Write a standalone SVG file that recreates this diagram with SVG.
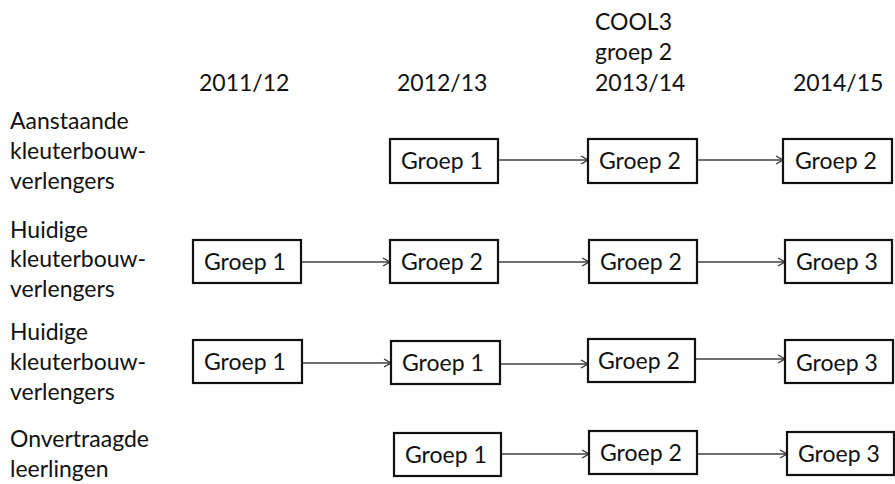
<svg xmlns="http://www.w3.org/2000/svg" width="895" height="484" viewBox="0 0 895 484">
<defs>
<marker id="ah" viewBox="0 0 10 10" refX="9" refY="5" markerWidth="10" markerHeight="10" markerUnits="userSpaceOnUse" orient="auto">
<path d="M2,1 L9,5 L2,9" fill="none" stroke="#333" stroke-width="1.3"/>
</marker>
<style>
text{font-family:Lato,"Open Sans","Liberation Sans",sans-serif;font-size:23px;fill:#111}
.box rect{fill:#fff;stroke:#111;stroke-width:2.2}
#connectors line{stroke:#404040;stroke-width:1.3;marker-end:url(#ah)}
</style>
</defs>
<rect width="895" height="484" fill="#fff"/>
<g id="headers">
<text x="199" y="91">2011/12</text>
<text x="397" y="91">2012/13</text>
<text x="595" y="30">COOL3</text>
<text x="595" y="60">groep 2</text>
<text x="595" y="91">2013/14</text>
<text x="793" y="91">2014/15</text>
</g>
<g id="row-labels">
<text x="10" y="129">Aanstaande</text>
<text x="10" y="159">kleuterbouw-</text>
<text x="10" y="189">verlengers</text>
<text x="10" y="238">Huidige</text>
<text x="10" y="267">kleuterbouw-</text>
<text x="10" y="297">verlengers</text>
<text x="10" y="340">Huidige</text>
<text x="10" y="370">kleuterbouw-</text>
<text x="10" y="400">verlengers</text>
<text x="10" y="447">Onvertraagde</text>
<text x="10" y="477">leerlingen</text>
</g>
<g id="connectors">
<line x1="498" y1="160" x2="588" y2="160"/>
<line x1="697" y1="160" x2="783" y2="160"/>
<line x1="301" y1="262" x2="390" y2="262"/>
<line x1="498" y1="262" x2="589" y2="262"/>
<line x1="697" y1="262" x2="785" y2="262"/>
<line x1="302" y1="363" x2="391" y2="363"/>
<line x1="500" y1="364" x2="588" y2="364"/>
<line x1="695" y1="359" x2="785" y2="359"/>
<line x1="501" y1="454" x2="589" y2="454"/>
<line x1="697" y1="454" x2="787" y2="454"/>
</g>
<g id="r1c2" class="box"><rect x="390" y="139" width="108" height="44"/><text x="401" y="169">Groep 1</text></g>
<g id="r1c3" class="box"><rect x="588" y="139" width="109" height="44"/><text x="599" y="169">Groep 2</text></g>
<g id="r1c4" class="box"><rect x="783" y="139" width="109" height="44"/><text x="795" y="169">Groep 2</text></g>
<g id="r2c1" class="box"><rect x="193" y="240" width="108" height="43"/><text x="204" y="270">Groep 1</text></g>
<g id="r2c2" class="box"><rect x="390" y="240" width="108" height="43"/><text x="401" y="270">Groep 2</text></g>
<g id="r2c3" class="box"><rect x="589" y="240" width="108" height="43"/><text x="600" y="270">Groep 2</text></g>
<g id="r2c4" class="box"><rect x="785" y="240" width="107" height="43"/><text x="796" y="270">Groep 3</text></g>
<g id="r3c1" class="box"><rect x="193" y="340" width="109" height="43"/><text x="204" y="370">Groep 1</text></g>
<g id="r3c2" class="box"><rect x="391" y="341" width="109" height="43"/><text x="402" y="371">Groep 1</text></g>
<g id="r3c3" class="box"><rect x="588" y="339" width="107" height="43"/><text x="598" y="369">Groep 2</text></g>
<g id="r3c4" class="box"><rect x="785" y="340" width="108" height="43"/><text x="796" y="371">Groep 3</text></g>
<g id="r4c2" class="box"><rect x="394" y="433" width="107" height="43"/><text x="405" y="463">Groep 1</text></g>
<g id="r4c3" class="box"><rect x="589" y="431" width="108" height="43"/><text x="600" y="461">Groep 2</text></g>
<g id="r4c4" class="box"><rect x="787" y="432" width="107" height="43"/><text x="798" y="462">Groep 3</text></g>
</svg>
